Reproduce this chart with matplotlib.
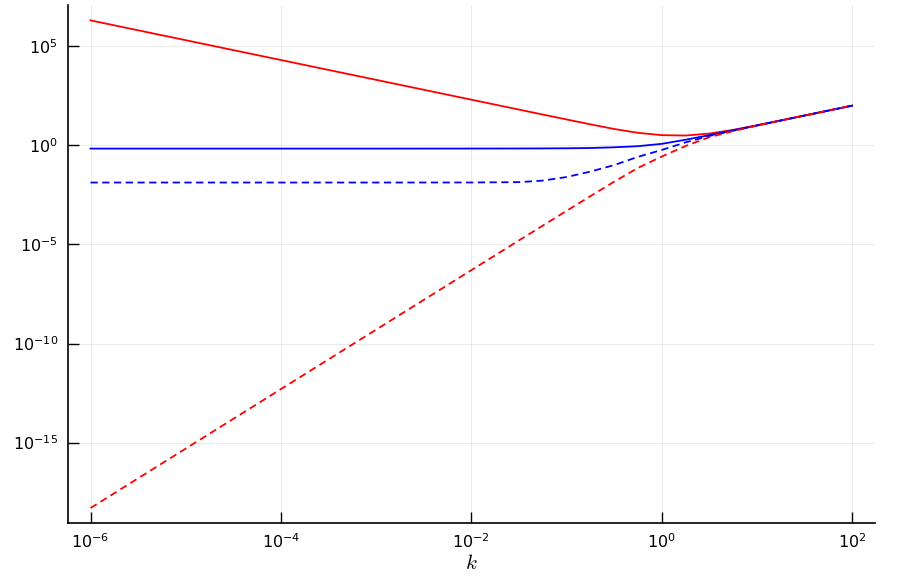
import matplotlib
matplotlib.use("Agg")
import matplotlib.pyplot as plt
from matplotlib.ticker import NullLocator, LogFormatterMathtext

# Data
k = [1e-6, 1e-5, 1e-4, 1e-3, 1e-2, 0.0316, 0.0562, 0.1, 0.178, 0.316,
     0.562, 1.0, 1.78, 3.16, 5.62, 10.0, 31.6, 100.0]

red_solid = [2e6, 2e5, 2e4, 2000, 200, 63.3, 35.6, 20.1, 11.4, 6.64,
             4.25, 3.25, 3.1, 3.9, 5.98, 10.2, 31.7, 100.0]

red_dashed = [5e-19, 5e-16, 5e-13, 5e-10, 5e-7, 1.58e-5, 8.8e-5, 4.9e-4,
              2.7e-3, 0.0145, 0.072, 0.27, 0.92, 2.55, 5.2, 9.8, 31.5, 100.0]

blue_solid = [0.68, 0.68, 0.68, 0.68, 0.685, 0.69, 0.695, 0.705, 0.73,
              0.79, 0.9, 1.18, 1.9, 3.24, 5.67, 10.02, 31.6, 100.0]

blue_dashed = [0.0132, 0.0132, 0.0132, 0.0132, 0.0133, 0.0138, 0.0165,
               0.025, 0.047, 0.1, 0.26, 0.58, 1.4, 2.95, 5.4, 9.9, 31.5, 100.0]

x_ticks = [1e-6, 1e-4, 1e-2, 1e0, 1e2]
y_ticks = [1e-15, 1e-10, 1e-5, 1e0, 1e5]

fig = plt.figure(figsize=(9.01, 5.80), dpi=100)
ax = fig.add_axes([0.0751, 0.0988, 0.896, 0.892])

ax.plot(k, red_solid, color="#ff0000", lw=1.3)
ax.plot(k, blue_solid, color="#0000ff", lw=1.3)
ax.plot(k, blue_dashed, color="#0000ff", lw=1.3, ls=(0, (4, 2.5)))
ax.plot(k, red_dashed, color="#ff0000", lw=1.3, ls=(0, (4, 2.5)))

ax.set_xscale("log")
ax.set_yscale("log")
ax.set_xlim(10**-6.24, 10**2.24)
ax.set_ylim(10**-19.04, 10**7.06)

ax.set_xticks(x_ticks)
ax.set_yticks(y_ticks)
ax.xaxis.set_minor_locator(NullLocator())
ax.yaxis.set_minor_locator(NullLocator())
ax.xaxis.set_major_formatter(LogFormatterMathtext())
ax.yaxis.set_major_formatter(LogFormatterMathtext())

ax.grid(True, color="#000000", alpha=0.08, lw=0.8)
ax.set_axisbelow(True)

for s in ("top", "right"):
    ax.spines[s].set_visible(False)
for s in ("left", "bottom"):
    ax.spines[s].set_linewidth(1.2)
    ax.spines[s].set_color("black")

ax.tick_params(axis="both", direction="in", length=8, width=1.0,
               labelsize=11.5, pad=7, colors="black")

ax.set_xlabel(r"$k$", fontsize=15, math_fontfamily="cm", labelpad=1)

fig.savefig("out.png", dpi=100)
